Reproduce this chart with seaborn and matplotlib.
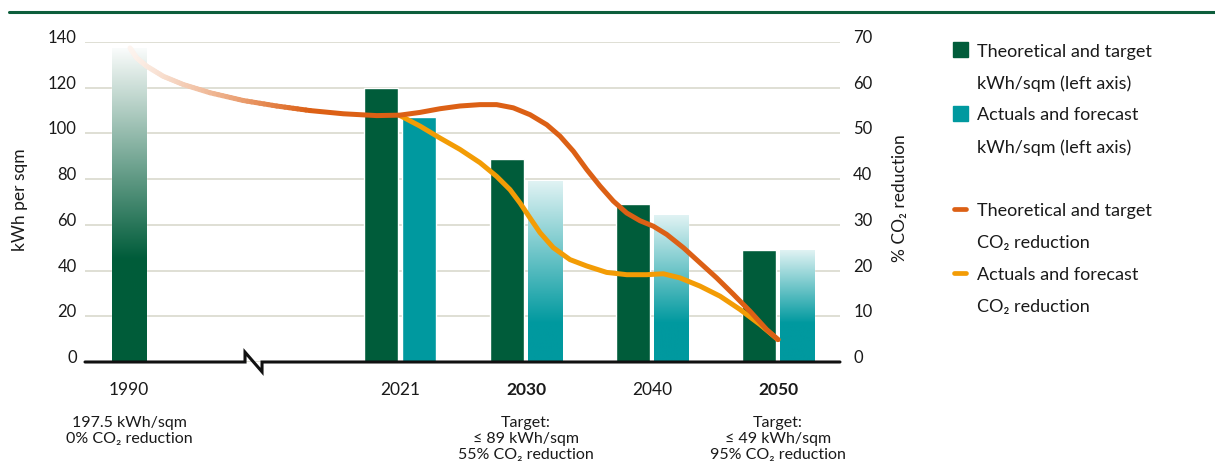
import numpy as np
import pandas as pd
import matplotlib
matplotlib.use('Agg')
import matplotlib.pyplot as plt
import seaborn as sns
from matplotlib.collections import LineCollection
from matplotlib.colors import to_rgb
from matplotlib.lines import Line2D
from matplotlib.patches import Rectangle

# ---- data ----
years = ['1990', '2021', '2030', '2040', '2050']
kwh_target = [137, 120, 89, 69, 49]          # 1990 bar is cut off (real value 197.5)
kwh_actual = [np.nan, 107, 79, 64, 49]
bold_years = ['2030', '2050']
notes = ['197.5 kWh/sqm\n0% CO₂ reduction', '',
         'Target:\n≤ 89 kWh/sqm\n55% CO₂ reduction', '',
         'Target:\n≤ 49 kWh/sqm\n95% CO₂ reduction']

# CO2 curves, x in category slots (2021 = 0), y in % (right axis)
co2_target_x = [-2.143, -2.09, -2.01, -1.879, -1.72, -1.508, -1.244, -0.979, -0.714,
                -0.45, -0.185, 0.0, 0.159, 0.317, 0.476, 0.635, 0.767, 0.899,
                1.032, 1.165, 1.27, 1.376, 1.482, 1.587, 1.693, 1.799, 1.905,
                2.011, 2.117, 2.249, 2.381, 2.513, 2.646, 2.778, 2.91, 3.0]
co2_target = [68.7, 66.5, 64.7, 62.5, 60.7, 58.9, 57.2, 56.0, 55.0,
              54.3, 53.9, 54.0, 54.6, 55.4, 56.0, 56.3, 56.3, 55.6,
              54.1, 51.9, 49.4, 46.1, 42.1, 38.5, 35.2, 32.6, 30.9,
              29.7, 27.9, 25.0, 21.7, 18.4, 14.8, 11.1, 7.1, 4.9]
co2_actual_x = [0.0, 0.159, 0.317, 0.476, 0.635, 0.767, 0.873, 0.952, 1.032,
                1.111, 1.217, 1.349, 1.482, 1.64, 1.799, 1.958, 2.09, 2.222,
                2.381, 2.54, 2.698, 2.857, 3.0]
co2_actual = [53.9, 51.6, 49.0, 46.5, 43.6, 40.6, 37.7, 34.8, 31.5,
              28.3, 25.0, 22.4, 21.0, 19.6, 19.1, 19.1, 19.3, 18.4,
              16.6, 14.4, 11.5, 8.2, 4.9]

series = ['Theoretical and target', 'Actuals and forecast']
legend_lines = [('Theoretical and target', 'kWh/sqm (left axis)'),
                ('Actuals and forecast', 'kWh/sqm (left axis)'),
                ('Theoretical and target', 'CO₂ reduction'),
                ('Actuals and forecast', 'CO₂ reduction')]

# ---- layout / style ----
slots = [-2.0, 0, 1, 2, 3]
GREEN = '#005c3a'
TEAL = '#00999f'
RED = '#dc6015'
AMBER = '#f39c05'
GRID = '#d9d9cd'
TXT = '#1a1a1a'
W, H = 1215, 464

sns.set_style('white')
plt.rcParams['font.family'] = ['Lato', 'DejaVu Sans']


def blend(color, t):
    c = np.array(to_rgb(color))
    return tuple(1 - t * (1 - c))


def fade_bar(ax, patch, color, top_t, full_at):
    x0, w, h = patch.get_x(), patch.get_width(), patch.get_height()
    yy = np.linspace(0, h, 300)
    t = np.where(yy <= full_at, 1.0,
                 1 - (1 - top_t) * (yy - full_at) / (h - full_at))
    img = np.array([blend(color, v) for v in t])[:, None, :]
    ax.imshow(img, extent=(x0, x0 + w, 0, h), origin='lower', aspect='auto',
              interpolation='bilinear', zorder=patch.get_zorder())
    patch.set_facecolor('none')


fig = plt.figure(figsize=(W / 100, H / 100), dpi=100)
ax = fig.add_axes([85 / W, 101 / H, 755 / W, 320 / H])

df = pd.DataFrame({
    'slot': slots * 2,
    'kwh': kwh_target + kwh_actual,
    'series': [series[0]] * len(slots) + [series[1]] * len(slots),
}).dropna()

sns.barplot(data=df, x='slot', y='kwh', hue='series', hue_order=series,
            palette=[GREEN, TEAL], saturation=1, native_scale=True,
            width=0.6, gap=0.1, errorbar=None, legend=False, ax=ax)

for p in list(ax.patches):
    cx = p.get_x() + p.get_width() / 2
    is_teal = np.allclose(p.get_facecolor()[:3], to_rgb(TEAL), atol=0.02)
    if cx < -1:
        fade_bar(ax, p, GREEN, 0.02, 45)
    elif is_teal and cx > 0.5:
        fade_bar(ax, p, TEAL, 0.12, 17)

ax.set_xlim(-2.5, 3.492)
ax.set_ylim(0, 140)
ax.set_yticks(range(0, 141, 20))
ax.grid(axis='y', color=GRID, lw=1.2)
ax.grid(axis='x', visible=False)
ax.set_axisbelow(True)
for s in ax.spines.values():
    s.set_visible(False)
ax.set_xlabel('')
ax.set_ylabel('')

# x axis with break mark
bx0, bx1 = -1.23, -1.095
ax.plot([-2.5, bx0, bx0, bx1, bx1, 3.492], [0, 0, 4.3, -4.3, 0, 0],
        color='#111111', lw=2.2, clip_on=False, zorder=5,
        solid_joinstyle='miter')

tick_pos = [slots[0] - 0.15] + slots[1:]
ax.set_xticks(tick_pos)
ax.set_xticklabels(years)
ax.tick_params(axis='x', length=0, pad=14, labelsize=12.5, colors=TXT)
for lab in ax.get_xticklabels():
    if lab.get_text() in bold_years:
        lab.set_fontweight('bold')
ax.tick_params(axis='y', length=0, pad=6, labelsize=12, colors=TXT)
for lab in ax.get_yticklabels():
    lab.set_va('baseline')

for x, note in zip(tick_pos, notes):
    if note:
        ax.text(x, -0.166, note, transform=ax.get_xaxis_transform(),
                ha='center', va='top', fontsize=11.5, color=TXT,
                linespacing=1.18)

# right axis: CO2 curves
ax2 = ax.twinx()
ax2.set_ylim(0, 70)
ax2.set_yticks(range(0, 71, 10))
ax2.grid(False)
for s in ax2.spines.values():
    s.set_visible(False)
ax2.tick_params(axis='y', length=0, pad=9.5, labelsize=12, colors=TXT)
for lab in ax2.get_yticklabels():
    lab.set_va('baseline')

LW = 3.6
sns.lineplot(x=co2_actual_x, y=co2_actual, ax=ax2, color=AMBER, lw=LW,
             sort=False, solid_capstyle='round', solid_joinstyle='round')

# fading start of the target curve
k = 8
segs, cols = [], []
for i in range(k):
    x0, x1 = co2_target_x[i], co2_target_x[i + 1]
    y0, y1 = co2_target[i], co2_target[i + 1]
    for j in range(8):
        a, b = j / 8, (j + 1) / 8
        segs.append([(x0 + (x1 - x0) * a, y0 + (y1 - y0) * a),
                     (x0 + (x1 - x0) * b, y0 + (y1 - y0) * b)])
        xm = x0 + (x1 - x0) * (a + b) / 2
        t = 0.1 + 0.9 * (xm - co2_target_x[0]) / (co2_target_x[k] - co2_target_x[0])
        cols.append(blend(RED, t ** 1.2))
ax2.add_collection(LineCollection(segs, colors=cols, lw=LW, capstyle='round'))
sns.lineplot(x=co2_target_x[k:], y=co2_target[k:], ax=ax2, color=RED, lw=LW,
             sort=False, solid_capstyle='round', solid_joinstyle='round')
ax2.set_xlim(-2.5, 3.492)
ax2.set_ylabel('')

# axis titles
fig.text(20 / W, 1 - 200 / H, 'kWh per sqm', rotation=90, ha='center',
         va='center', fontsize=12.5, color=TXT)
fig.text(900 / W, 1 - 198 / H, '% CO₂ reduction', rotation=90, ha='center',
         va='center', fontsize=12.5, color=TXT)

# top rule
fig.add_artist(Line2D([9 / W, 1], [1 - 13 / H] * 2, color='#0d5e3c', lw=2.2))

# legend (drawn by hand to match the two-line layout)
rows = [50, 114, 210, 274]
for i, ((l1, l2), yc) in enumerate(zip(legend_lines, rows)):
    if i < 2:
        fig.add_artist(Rectangle((953 / W, 1 - (yc + 7.5) / H), 15 / W, 15 / H,
                                 color=[GREEN, TEAL][i], transform=fig.transFigure))
    else:
        fig.add_artist(Line2D([954 / W, 966 / W], [1 - yc / H] * 2, lw=3.4,
                              color=[RED, AMBER][i - 2], solid_capstyle='round'))
    fig.text(977 / W, 1 - (yc + 6.5) / H, l1, va='baseline', fontsize=13, color=TXT)
    fig.text(977 / W, 1 - (yc + 38.5) / H, l2, va='baseline', fontsize=13, color=TXT)

fig.savefig('out.png', dpi=100)
